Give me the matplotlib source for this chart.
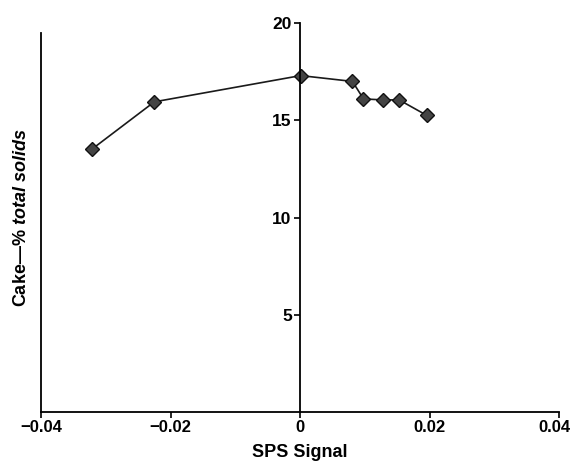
import matplotlib
matplotlib.use("Agg")
import matplotlib.pyplot as plt
import matplotlib.transforms as mtransforms

# SPS signal vs cake solids
sps_signal = [-0.0322, -0.0225, 0.0001, 0.0081, 0.0098, 0.0128, 0.0153, 0.0196]
cake_solids = [13.5, 15.95, 17.3, 17.0, 16.1, 16.05, 16.05, 15.25]

x_ticks = [-0.04, -0.02, 0, 0.02, 0.04]
x_labels = ["\u22120.04", "\u22120.02", "0", "0.02", "0.04"]
y_ticks = [5, 10, 15, 20]

plt.rcParams['font.family'] = ['Liberation Sans', 'DejaVu Sans']
plt.rcParams['mathtext.fontset'] = 'custom'
plt.rcParams['mathtext.it'] = 'Liberation Sans:bold:italic'
plt.rcParams['mathtext.rm'] = 'Liberation Sans:bold'

fig = plt.figure(figsize=(5.73, 4.76), dpi=100)
ax = fig.add_axes([0.0716, 0.1345, 0.904, 0.817])

ax.plot(sps_signal, cake_solids, color='#1a1a1a', lw=1.2,
        marker='D', markersize=7, markerfacecolor='#444444',
        markeredgecolor='#111111', markeredgewidth=1.0)

ax.set_xlim(-0.04, 0.04)
ax.set_ylim(0, 20)

# y axis drawn through x = 0, plain frame line at the left edge
ax.spines['left'].set_position(('data', 0))
ax.spines['right'].set_visible(False)
ax.spines['top'].set_visible(False)
for s in ['left', 'bottom']:
    ax.spines[s].set_linewidth(1.3)
ax.axvline(-0.04, ymax=0.975, color='black', lw=1.3, clip_on=False)

ax.set_xticks(x_ticks)
ax.set_xticklabels(x_labels, fontweight='bold', fontsize=12)
ax.set_yticks(y_ticks)
ax.set_yticklabels([str(v) for v in y_ticks], fontweight='bold', fontsize=12.5)
ax.tick_params(axis='both', direction='out', length=4, width=1.2, pad=2)

# keep the last x label inside the figure
last = ax.get_xticklabels()[-1]
last.set_transform(last.get_transform() +
                   mtransforms.ScaledTranslation(-5 / 100, 0, fig.dpi_scale_trans))

ax.set_xlabel('SPS Signal', fontweight='bold', fontsize=13, labelpad=6)
ax.set_ylabel('Cake\u2014% $\\mathit{total\\ solids}$', fontweight='bold', fontsize=13)
ax.yaxis.set_label_coords(-0.021, 0.5)

fig.savefig('out.png', dpi=100)
